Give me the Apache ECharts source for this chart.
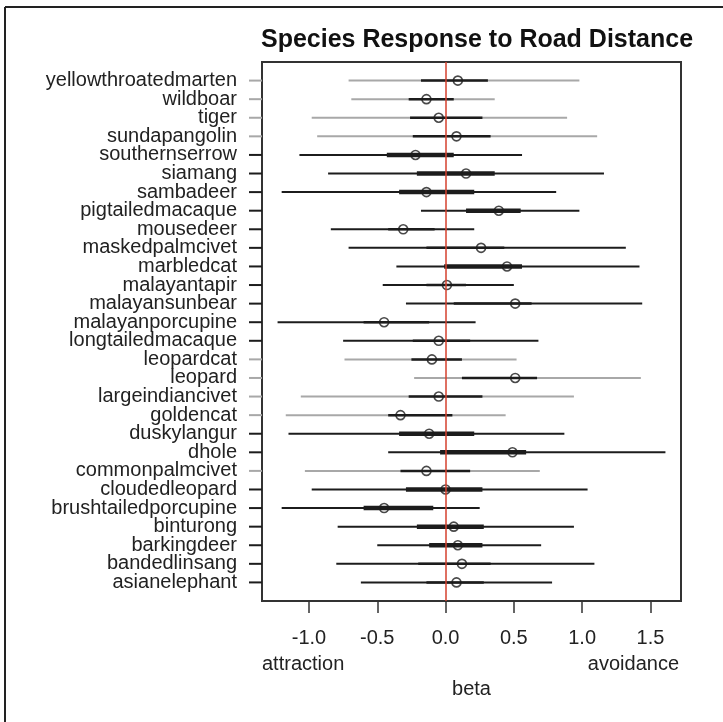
<!DOCTYPE html>
<html>
<head>
<meta charset="utf-8">
<script src="https://cdn.jsdelivr.net/npm/echarts@6/dist/echarts.min.js"></script>
<style>
  html, body { margin: 0; padding: 0; background: #fff; }
  #chart { width: 723px; height: 722px; }
</style>
</head>
<body>
<div id="chart"></div>
<script>
// species, top to bottom
const species = [
  'yellowthroatedmarten', 'wildboar', 'tiger', 'sundapangolin', 'southernserrow',
  'siamang', 'sambadeer', 'pigtailedmacaque', 'mousedeer', 'maskedpalmcivet',
  'marbledcat', 'malayantapir', 'malayansunbear', 'malayanporcupine', 'longtailedmacaque',
  'leopardcat', 'leopard', 'largeindiancivet', 'goldencat', 'duskylangur',
  'dhole', 'commonpalmcivet', 'cloudedleopard', 'brushtailedporcupine', 'binturong',
  'barkingdeer', 'bandedlinsang', 'asianelephant'
];
const beta    = [0.09, -0.14, -0.05, 0.08, -0.22, 0.15, -0.14, 0.39, -0.31, 0.26, 0.45, 0.01, 0.51, -0.45,
                 -0.05, -0.10, 0.51, -0.05, -0.33, -0.12, 0.49, -0.14, 0.00, -0.45, 0.06, 0.09, 0.12, 0.08];
const outerLo = [-0.71, -0.69, -0.98, -0.94, -1.07, -0.86, -1.20, -0.18, -0.84, -0.71, -0.36, -0.46, -0.29, -1.23,
                 -0.75, -0.74, -0.23, -1.06, -1.17, -1.15, -0.42, -1.03, -0.98, -1.20, -0.79, -0.50, -0.80, -0.62];
const outerHi = [0.98, 0.36, 0.89, 1.11, 0.56, 1.16, 0.81, 0.98, 0.21, 1.32, 1.42, 0.50, 1.44, 0.22,
                 0.68, 0.52, 1.43, 0.94, 0.44, 0.87, 1.61, 0.69, 1.04, 0.25, 0.94, 0.70, 1.09, 0.78];
const innerLo = [-0.18, -0.27, -0.26, -0.24, -0.43, -0.21, -0.34, 0.15, -0.42, -0.14, -0.01, -0.14, 0.06, -0.60,
                 -0.24, -0.25, 0.12, -0.27, -0.42, -0.34, -0.04, -0.33, -0.29, -0.60, -0.21, -0.12, -0.20, -0.14];
const innerHi = [0.31, 0.06, 0.27, 0.33, 0.06, 0.36, 0.21, 0.55, -0.08, 0.43, 0.56, 0.15, 0.63, -0.12,
                 0.18, 0.12, 0.67, 0.27, 0.05, 0.21, 0.59, 0.18, 0.27, -0.09, 0.28, 0.27, 0.33, 0.28];
// 1 = outer interval drawn in gray
const grayRow = [1, 1, 1, 1, 0, 0, 0, 0, 0, 0, 0, 0, 0, 0, 0, 1, 1, 1, 1, 0, 0, 1, 0, 0, 0, 0, 0, 0];
// 1 = inner interval drawn thick
const thickRow = [0, 0, 0, 0, 1, 1, 1, 1, 0, 0, 1, 0, 0, 0, 0, 0, 0, 0, 0, 1, 1, 0, 1, 1, 1, 1, 0, 0];
const xTicks = [-1.0, -0.5, 0.0, 0.5, 1.0, 1.5];

const GRAY = '#a8a8a8';
const BLACK = '#1c1c1c';
const FONT = '"Liberation Sans", Arial, sans-serif';

const rows = species.map((s, i) => [i + 1, outerLo[i], outerHi[i], innerLo[i], innerHi[i], grayRow[i], thickRow[i]]);
const points = species.map((s, i) => [beta[i], i + 1]);

const chart = echarts.init(document.getElementById('chart'));

chart.setOption({
  animation: false,
  backgroundColor: '#fff',
  title: {
    text: 'Species Response to Road Distance',
    left: 472, top: 23, textAlign: 'center',
    textStyle: { fontFamily: FONT, fontSize: 25, fontWeight: 'bold', color: '#111' }
  },
  grid: {
    left: 262, top: 62, right: 42, bottom: 121,
    show: true, borderColor: '#333', borderWidth: 2, backgroundColor: 'transparent'
  },
  xAxis: {
    type: 'value', min: -1.344, max: 1.724, position: 'bottom',
    splitLine: { show: false },
    axisLine: { show: false, onZero: false },
    axisTick: { show: true, customValues: xTicks, length: 12, lineStyle: { color: '#333', width: 1.5 } },
    axisLabel: {
      customValues: xTicks, margin: 27, hideOverlap: false,
      formatter: v => v.toFixed(1),
      fontFamily: FONT, fontSize: 20, color: '#222'
    },
    name: 'beta', nameLocation: 'middle', nameGap: 78,
    nameTextStyle: { fontFamily: FONT, fontSize: 20, color: '#222' }
  },
  yAxis: {
    type: 'value', min: 0, max: 29, inverse: true,
    splitLine: { show: false },
    axisLine: { show: false, onZero: false },
    axisTick: { show: false },
    axisLabel: { show: false }
  },
  graphic: [
    { type: 'line', shape: { x1: 5, y1: 7, x2: 723, y2: 7 }, style: { stroke: '#222', lineWidth: 2 } },
    { type: 'line', shape: { x1: 5, y1: 7, x2: 5, y2: 722 }, style: { stroke: '#222', lineWidth: 2 } },
    { type: 'text', left: 262, top: 654, style: { text: 'attraction', font: '20px ' + FONT, fill: '#222' } },
    { type: 'text', right: 44, top: 654, style: { text: 'avoidance', font: '20px ' + FONT, fill: '#222' } }
  ],
  series: [
    {
      type: 'custom',
      clip: false,
      data: rows,
      renderItem: function (params, api) {
        const y = api.value(0);
        const o1 = api.coord([api.value(1), y]);
        const o2 = api.coord([api.value(2), y]);
        const i1 = api.coord([api.value(3), y]);
        const i2 = api.coord([api.value(4), y]);
        const col = api.value(5) ? GRAY : BLACK;
        const left = params.coordSys.x;
        return {
          type: 'group',
          children: [
            // species name as the y tick label
            { type: 'text', x: left - 25, y: o1[1],
              style: { text: species[params.dataIndex], font: '20px ' + FONT, fill: '#222',
                       align: 'right', verticalAlign: 'middle' } },
            { type: 'line', shape: { x1: left - 13, y1: o1[1], x2: left, y2: o1[1] },
              style: { stroke: col, lineWidth: 2 } },
            { type: 'line', shape: { x1: o1[0], y1: o1[1], x2: o2[0], y2: o2[1] },
              style: { stroke: col, lineWidth: 2 } },
            { type: 'line', shape: { x1: i1[0], y1: i1[1], x2: i2[0], y2: i2[1] },
              style: { stroke: BLACK, lineWidth: api.value(6) ? 4.5 : 2.5 } }
          ]
        };
      },
      markLine: {
        silent: true, symbol: 'none', label: { show: false },
        lineStyle: { color: '#d4402e', width: 1.5, type: 'solid' },
        data: [{ xAxis: 0 }]
      },
      z: 2
    },
    {
      type: 'scatter',
      data: points,
      symbol: 'circle',
      symbolSize: 9,
      itemStyle: { color: 'rgba(255,255,255,0)', borderColor: BLACK, borderWidth: 1.6 },
      z: 3
    }
  ]
});
</script>
</body>
</html>
